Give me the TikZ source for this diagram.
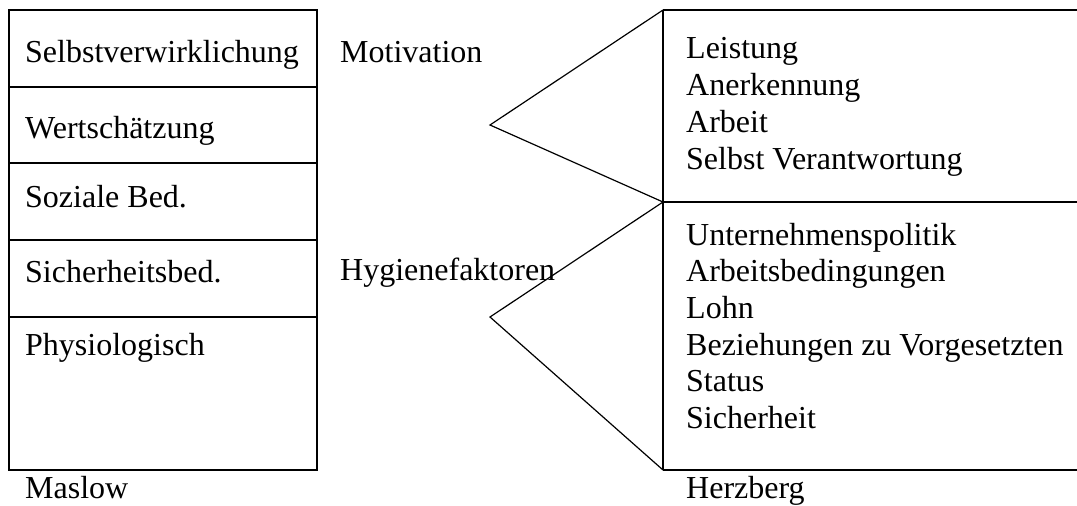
\documentclass[tikz,border=0pt]{standalone}
\usepackage{fontspec}
\setmainfont{Liberation Serif}
\usetikzlibrary{positioning}

\begin{document}
\begin{tikzpicture}[x=1pt,y=-1pt,
  frame/.style={draw=black,line width=1.4pt},
  edge/.style={draw=black,line width=1.2pt},
  lbl/.style={anchor=base west,inner sep=0pt,font=\fontsize{32}{37}\selectfont}
]
\useasboundingbox (0,0) rectangle (1077,506);
% Maslow pyramid as stacked rows
\draw[frame] (9,10) rectangle (317,470);
\foreach \y in {87,163,240,317} \draw[frame] (9,\y) -- (317,\y);
\node[lbl] (selbst) at (25,62) {Selbstverwirklichung};
\node[lbl] (wert) at (25,138) {Wertschätzung};
\node[lbl] (sozial) at (25,207) {Soziale Bed.};
\node[lbl] (sicher) at (25,282) {Sicherheitsbed.};
\node[lbl] (physio) at (25,355) {Physiologisch};
\node[lbl] (maslow) at (25,498) {Maslow};
% Herzberg factors
\node[lbl] (motiv) at (340,62) {Motivation};
\node[lbl] (hygiene) at (340,280) {Hygienefaktoren};
\coordinate (hzTop) at (663,10);
\coordinate (hzMid) at (663,202);
\coordinate (hzBot) at (663,470);
\coordinate (motApex) at (490,125);
\coordinate (hygApex) at (490,317);
\draw[frame] (hzTop) -- (1077,10);
\draw[frame] (hzMid) -- (1077,202);
\draw[frame] (hzBot) -- (1077,470);
\draw[frame] (hzTop) -- (hzBot);
\draw[edge] (hzTop) -- (motApex) -- (hzMid);
\draw[edge] (hzMid) -- (hygApex) -- (hzBot);
\foreach \t [count=\i] in {Leistung,Anerkennung,Arbeit,Selbst Verantwortung}
  \node[lbl] (mot\i) at (686,{58+37.3*(\i-1)}) {\t};
\foreach \t [count=\i] in {Unternehmenspolitik,Arbeitsbedingungen,Lohn,Beziehungen zu Vorgesetzten,Status,Sicherheit}
  \node[lbl] (hyg\i) at (686,{245+36.7*(\i-1)}) {\t};
\node[lbl] (herzberg) at (686,498) {Herzberg};
\end{tikzpicture}
\end{document}
